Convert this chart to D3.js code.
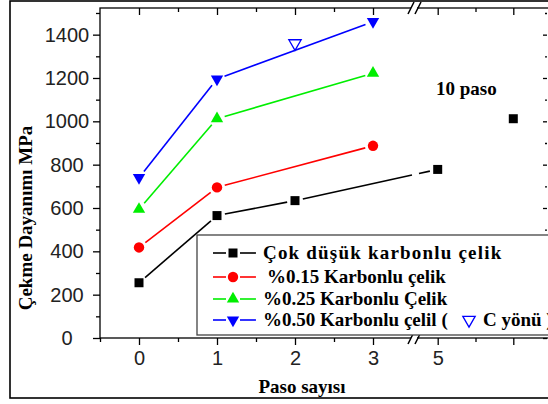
<!DOCTYPE html>
<html>
<head>
<meta charset="utf-8">
<script src="https://cdn.jsdelivr.net/npm/d3@7"></script>
<style>
  body { margin: 0; background: #fff; }
  svg { display: block; }
</style>
</head>
<body>
<div id="chart"></div>
<script>
// ------------------- //
// DATA
// ------------------- //
var series = ["Çok düşük karbonlu çelik", "%0.15 Karbonlu çelik", "%0.25 Karbonlu Çelik", "%0.50 Karbonlu çelil ("]

// pass counts and tensile strength (MPa) per steel
var pasoLow = [0, 1, 2, 5], valLow = [255, 565, 634, 778]
var pasoLow10 = [10], valLow10 = [1012]
var paso015 = [0, 1, 3], val015 = [418, 695, 887]
var paso025 = [0, 1, 3], val025 = [594, 1012, 1222]
var paso050 = [0, 1, 3], val050 = [740, 1195, 1460]
var pasoC = [2], valC = [1360]

var xTicksA = [0, 1, 2, 3], xMinorA = [-0.5, 0.5, 1.5, 2.5]
var xTicksB = [5, 10], xMinorB = [7.5]
var xLabelsB = {5: "5", 10: ""}
var yTicks = [0, 200, 400, 600, 800, 1000, 1200, 1400]
var yMinor = [100, 300, 500, 700, 900, 1100, 1300, 1500]

// ------------------- //
// SVG + SCALES
// ------------------- //
var W = 548, H = 404
var pLeft = 100, pTop = 8, pRight = 547, pBottom = 338
var breakX = 412
var serif = "'Liberation Serif', 'Times New Roman', serif"

var svg = d3.select("#chart").append("svg")
  .attr("width", W).attr("height", H)

var x1 = d3.scaleLinear().domain([-0.5, 3.5]).range([pLeft, breakX])
var x2 = d3.scaleLinear().domain([5, 10]).range([437.7, 513.3])
var y = d3.scaleLinear().domain([0, 1523]).range([pBottom, pTop])
function xp(p) { return p <= 3.5 ? x1(p) : x2(p) }

// outer frame
svg.append("rect")
  .attr("x", 10).attr("y", 1).attr("width", 560).attr("height", 397)
  .attr("fill", "none").attr("stroke", "#000").attr("stroke-width", 1.6)

// plot frame
svg.append("rect")
  .attr("x", pLeft).attr("y", pTop).attr("width", pRight - pLeft + 5).attr("height", pBottom - pTop)
  .attr("fill", "none").attr("stroke", "#000").attr("stroke-width", 1.3)

// ------------------- //
// AXES
// ------------------- //
function styleAxis(g) {
  g.select(".domain").remove()
  g.selectAll("line").attr("stroke", "#000").attr("stroke-width", 1.3)
  g.selectAll("text").style("font-family", "Arial, 'Liberation Sans', sans-serif")
    .style("font-size", "20px").attr("fill", "#222")
}

// bottom (outward)
svg.append("g").attr("transform", "translate(0," + pBottom + ")")
  .call(d3.axisBottom(x1).tickValues(xTicksA).tickFormat(d3.format("d")).tickSize(7).tickPadding(6))
  .call(styleAxis)
svg.append("g").attr("transform", "translate(0," + pBottom + ")")
  .call(d3.axisBottom(x1).tickValues(xMinorA).tickFormat("").tickSize(4))
  .call(styleAxis)
svg.append("g").attr("transform", "translate(0," + pBottom + ")")
  .call(d3.axisBottom(x2).tickValues(xTicksB).tickFormat(function(d){ return xLabelsB[d] }).tickSize(7).tickPadding(6))
  .call(styleAxis)
svg.append("g").attr("transform", "translate(0," + pBottom + ")")
  .call(d3.axisBottom(x2).tickValues(xMinorB).tickFormat("").tickSize(4))
  .call(styleAxis)

// top (inward)
svg.append("g").attr("transform", "translate(0," + pTop + ")")
  .call(d3.axisBottom(x1).tickValues(xTicksA).tickFormat("").tickSize(7))
  .call(styleAxis)
svg.append("g").attr("transform", "translate(0," + pTop + ")")
  .call(d3.axisBottom(x1).tickValues(xMinorA.slice(1)).tickFormat("").tickSize(4))
  .call(styleAxis)
svg.append("g").attr("transform", "translate(0," + pTop + ")")
  .call(d3.axisBottom(x2).tickValues(xTicksB).tickFormat("").tickSize(7))
  .call(styleAxis)
svg.append("g").attr("transform", "translate(0," + pTop + ")")
  .call(d3.axisBottom(x2).tickValues(xMinorB).tickFormat("").tickSize(4))
  .call(styleAxis)

// left (outward), labels centred like the original
svg.append("g").attr("transform", "translate(" + pLeft + ",0)")
  .call(d3.axisLeft(y).tickValues(yTicks).tickFormat(d3.format("d")).tickSize(7))
  .call(styleAxis)
  .selectAll("text").attr("text-anchor", "middle").attr("x", -33)
svg.append("g").attr("transform", "translate(" + pLeft + ",0)")
  .call(d3.axisLeft(y).tickValues(yMinor).tickFormat("").tickSize(4))
  .call(styleAxis)

// right (inward)
svg.append("g").attr("transform", "translate(" + pRight + ",0)")
  .call(d3.axisLeft(y).tickValues(yTicks).tickFormat("").tickSize(4))
  .call(styleAxis)
svg.append("g").attr("transform", "translate(" + pRight + ",0)")
  .call(d3.axisLeft(y).tickValues(yMinor).tickFormat("").tickSize(2))
  .call(styleAxis)

// axis break marks
function breakMark(yy) {
  svg.append("rect").attr("x", breakX - 1).attr("y", yy - 2).attr("width", 6).attr("height", 4).attr("fill", "#fff")
  ;[breakX - 4, breakX + 3].forEach(function(bx) {
    svg.append("line")
      .attr("x1", bx).attr("y1", yy + 6).attr("x2", bx + 6).attr("y2", yy - 6)
      .attr("stroke", "#000").attr("stroke-width", 1.5)
  })
}
breakMark(pTop)
breakMark(pBottom)

// ------------------- //
// SERIES
// ------------------- //
var sym = {
  square: d3.symbol().type(d3.symbolSquare).size(81),
  circle: d3.symbol().type(d3.symbolCircle).size(85),
  triangle: d3.symbol().type(d3.symbolTriangle).size(66)
}

function gapLine(g, p1, p2, color, gap) {
  var dx = p2[0] - p1[0], dy = p2[1] - p1[1], L = Math.sqrt(dx*dx + dy*dy)
  var ux = dx / L, uy = dy / L
  var a = [p1[0] + ux*gap, p1[1] + uy*gap], b = [p2[0] - ux*gap, p2[1] - uy*gap]
  var pieces = [[a, b]]
  // split around the axis break
  if (a[0] < breakX && b[0] > breakX + 7) {
    var ya = a[1] + (breakX - a[0]) / (b[0] - a[0]) * (b[1] - a[1])
    var yb = a[1] + (breakX + 7 - a[0]) / (b[0] - a[0]) * (b[1] - a[1])
    pieces = [[a, [breakX, ya]], [[breakX + 7, yb], b]]
  }
  pieces.forEach(function(pc) {
    g.append("line")
      .attr("x1", pc[0][0]).attr("y1", pc[0][1]).attr("x2", pc[1][0]).attr("y2", pc[1][1])
      .attr("stroke", color).attr("stroke-width", 1.6)
  })
}

function drawSeries(paso, vals, color, shape, rot, connect, hollow) {
  var g = svg.append("g")
  var pts = paso.map(function(p, i) { return [xp(p), y(vals[i])] })
  if (connect) {
    for (var i = 0; i < pts.length - 1; i++) gapLine(g, pts[i], pts[i+1], color, 8)
  }
  g.selectAll("path").data(pts).enter().append("path")
    .attr("d", sym[shape])
    .attr("transform", function(d) { return "translate(" + d[0] + "," + d[1] + ") rotate(" + rot + ")" })
    .attr("fill", hollow ? "#fff" : color)
    .attr("stroke", hollow ? color : "none")
    .attr("stroke-width", 1.3)
}

drawSeries(pasoLow, valLow, "#000", "square", 0, true)
drawSeries(pasoLow10, valLow10, "#000", "square", 0, false)
drawSeries(paso015, val015, "#ff0000", "circle", 0, true)
drawSeries(paso025, val025, "#00ee00", "triangle", 0, true)
drawSeries(paso050, val050, "#0000ff", "triangle", 180, true)
drawSeries(pasoC, valC, "#0000ff", "triangle", 180, false, true)

// "10 paso" note
svg.append("text")
  .attr("x", 436).attr("y", 95)
  .text("10 paso")
  .style("font-family", serif)
  .style("font-weight", "bold").style("font-size", "19px")

// ------------------- //
// LEGEND
// ------------------- //
var legend = svg.append("g")
legend.append("rect")
  .attr("x", 197).attr("y", 235).attr("width", 400).attr("height", 100)
  .attr("fill", "#fff").attr("stroke", "#444").attr("stroke-width", 1.3)

var legColors = ["#000", "#ff0000", "#00ee00", "#0000ff"]
var legShapes = ["square", "circle", "triangle", "triangle"]
var legRot = [0, 0, 0, 180]
var legRowY = [253, 277, 299, 320]
var legTextX = [263, 267, 263, 263]

series.forEach(function(name, i) {
  var cy = legRowY[i]
  legend.append("line").attr("x1", 213).attr("x2", 226).attr("y1", cy).attr("y2", cy)
    .attr("stroke", legColors[i]).attr("stroke-width", 1.6)
  legend.append("line").attr("x1", 240).attr("x2", 256).attr("y1", cy).attr("y2", cy)
    .attr("stroke", legColors[i]).attr("stroke-width", 1.6)
  legend.append("path").attr("d", sym[legShapes[i]])
    .attr("transform", "translate(233," + cy + ") rotate(" + legRot[i] + ")")
    .attr("fill", legColors[i])
  var t = legend.append("text")
    .attr("x", legTextX[i]).attr("y", cy + 6)
    .text(name)
    .style("font-family", serif)
    .style("font-weight", "bold").style("font-size", "19px")
  if (i === 0) t.style("letter-spacing", "1.2px")
})
// "C yönü" entry on the last row
legend.append("path").attr("d", sym.triangle)
  .attr("transform", "translate(469," + legRowY[3] + ") rotate(180)")
  .attr("fill", "#fff").attr("stroke", "#0000ff").attr("stroke-width", 1.3)
legend.append("text")
  .attr("x", 483).attr("y", legRowY[3] + 6)
  .text("C yönü )")
  .style("font-family", serif)
  .style("font-weight", "bold").style("font-size", "19px")

// ------------------- //
// AXIS TITLES
// ------------------- //
svg.append("text")
  .attr("x", 302).attr("y", 393)
  .attr("text-anchor", "middle")
  .text("Paso sayısı")
  .style("font-family", serif)
  .style("font-weight", "bold").style("font-size", "19px")

svg.append("text")
  .attr("transform", "translate(32,218) rotate(-90)")
  .attr("text-anchor", "middle")
  .text("Çekme Dayanımı MPa")
  .style("font-family", serif)
  .style("font-weight", "bold").style("font-size", "19px")
</script>
</body>
</html>
